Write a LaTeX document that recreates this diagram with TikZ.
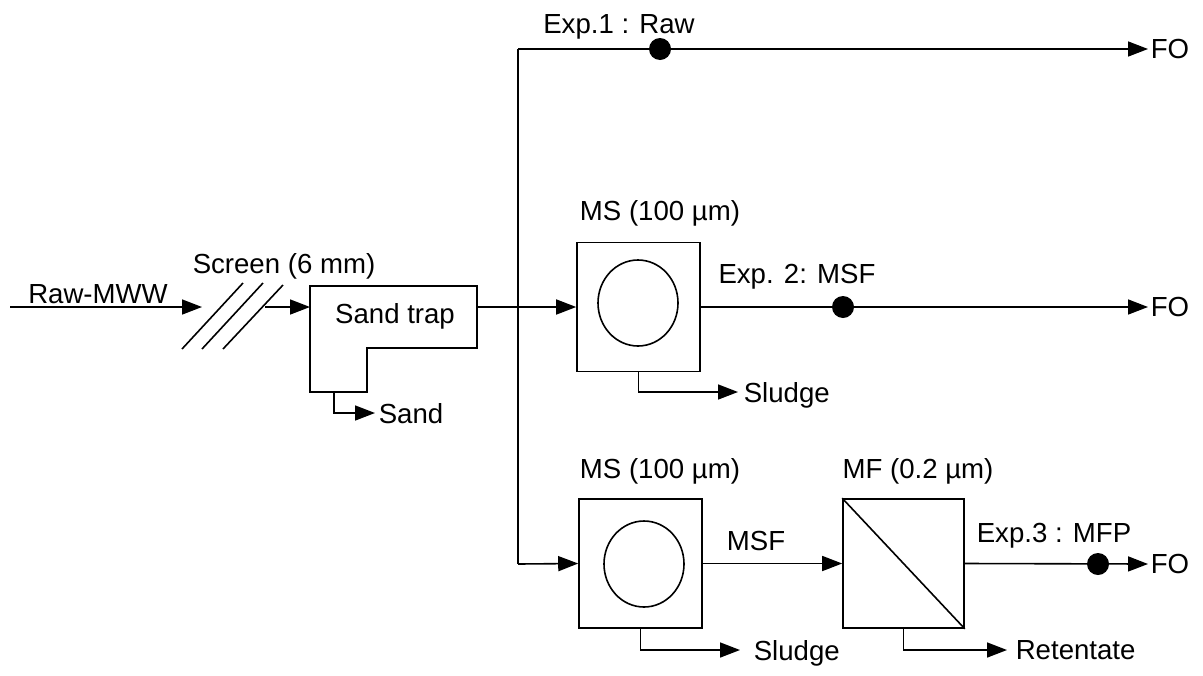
\documentclass[tikz,border=0pt]{standalone}
\usepackage{fontspec}
\setmainfont{Liberation Sans}
\usetikzlibrary{arrows.meta,shapes.geometric}
\begin{document}
\begin{tikzpicture}[x=0.5pt,y=-0.5pt,line width=0.8pt,
  flow/.style={-{Triangle[length=10pt,width=7.5pt]}},
  lbl/.style={inner sep=0pt, anchor=base, font=\fontsize{13.8}{16}\selectfont},
  sidelbl/.style={inner sep=0pt, anchor=west, text depth=0pt, font=\fontsize{13.8}{16}\selectfont},
  unitbox/.style={draw, inner sep=0pt, minimum width=61.5pt, minimum height=64.5pt},
  drum/.style={draw, ellipse, inner sep=0pt, minimum width=40pt, minimum height=43pt},
  dot/.style={circle, fill, inner sep=0pt, minimum size=11pt}]
\path[use as bounding box] (0,0) rectangle (1203,675);

% inlet and screen
\coordinate (src) at (10,307);
\coordinate (scrA) at (202,307);
\coordinate (scrB) at (265,307);
\coordinate (stin) at (310,307);
\coordinate (stout) at (477,307);
\coordinate (stbot) at (334,392);
\draw[flow] (src) -- (scrA);
\node[lbl] (rawlbl) at (98,303) {Raw-MWW};
\draw (182,349) -- (243,283);
\draw (202,349) -- (263,283);
\draw (223,349) -- (283,285);
\node[lbl] (scrlbl) at (284,273) {Screen (6 mm)};
\draw[flow] (scrB) -- (stin);

% sand trap
\draw (310,286) -- (477,286) -- (477,348) -- (367,348) -- (367,392) -- (310,392) -- cycle;
\node[lbl] (st) at (395,323) {Sand trap};
\node[sidelbl] (sand) at (378,413) {Sand};
\draw[flow, shorten >=1.5pt] (stbot) |- (sand.west);

% distribution
\coordinate (J) at (518,307);
\coordinate (Jtop) at (518,49);
\coordinate (Jbot) at (518,564);
\draw (stout) -- (J);
\draw (Jtop) -- (Jbot);

% Exp 1
\node[sidelbl] (fo1) at (1150,49) {FO};
\draw[flow, shorten >=1pt] (Jtop) -- (fo1.west);
\node[dot] (d1) at (660,49) {};
\node[lbl] (e1) at (619,33) {Exp.1 : Raw};

% Exp 2
\node[unitbox] (ms1) at (638.5,307) {};
\node[drum] (ms1c) at (638,303) {};
\node[lbl] (ms1l) at (660,220) {MS (100 µm)};
\draw[flow] (J) -- (ms1.west);
\node[sidelbl] (fo2) at (1150,307) {FO};
\draw[flow, shorten >=1pt] (ms1.east) -- (fo2.west);
\node[dot] (d2) at (843,307) {};
\node[lbl] (e2) at (797,283) {Exp. 2: MSF};
\node[sidelbl] (sl1) at (743,392) {Sludge};
\draw[flow, shorten >=2.5pt] (ms1.south) |- (sl1.west);

% Exp 3
\node[unitbox] (ms2) at (640.5,563.5) {};
\node[drum] (ms2c) at (644,564) {};
\node[lbl] (ms2l) at (660,478) {MS (100 µm)};
\draw[flow] (Jbot) -- (ms2.west);
\node[unitbox, minimum width=60.5pt] (mf) at (903.5,563.5) {};
\draw (mf.north west) -- (mf.south east);
\node[lbl] (mfl) at (918,478) {MF (0.2 µm)};
\draw[flow] (ms2.east) -- (mf.west);
\node[lbl] (msf) at (756,550) {MSF};
\node[sidelbl] (sl2) at (753,650) {Sludge};
\draw[flow, shorten >=6.5pt] (ms2.south) |- (sl2.west);
\node[sidelbl] (ret) at (1015,650) {Retentate};
\draw[flow, shorten >=4pt] (mf.south) |- (ret.west);
\node[sidelbl] (fo3) at (1150,564) {FO};
\draw[flow, shorten >=1pt] (mf.east) -- (fo3.west);
\node[dot] (d3) at (1098,564) {};
\node[lbl] (e3) at (1054,542) {Exp.3 : MFP};
\end{tikzpicture}
\end{document}
